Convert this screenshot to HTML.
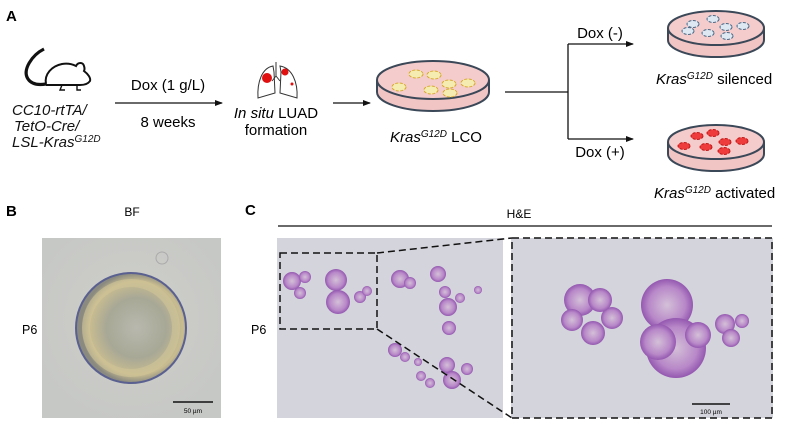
<!DOCTYPE html>
<html><head><meta charset="utf-8"><style>
html,body{margin:0;padding:0;background:#fff;}
svg{display:block;font-family:"Liberation Sans",Arial,sans-serif;}
</style></head><body>
<svg width="798" height="426" viewBox="0 0 798 426" xmlns="http://www.w3.org/2000/svg">
<defs>
<marker id="ar" markerWidth="8" markerHeight="8" refX="7" refY="4" orient="auto" markerUnits="userSpaceOnUse"><path d="M0,1 L8,4 L0,7 z" fill="#111"/></marker>
<radialGradient id="bf" cx="50%" cy="45%" r="60%"><stop offset="0" stop-color="#cfcfc8"/><stop offset="1" stop-color="#c6c8c6"/></radialGradient>
<radialGradient id="org" cx="55%" cy="50%" r="50%"><stop offset="0" stop-color="#b8b8ae"/><stop offset="0.55" stop-color="#a8a896"/><stop offset="0.85" stop-color="#c8bc90"/><stop offset="1" stop-color="#8a8a80"/></radialGradient>
<radialGradient id="he" cx="50%" cy="50%" r="50%"><stop offset="0" stop-color="#d4c0d8"/><stop offset="0.7" stop-color="#b888c8"/><stop offset="1" stop-color="#9458b0"/></radialGradient>
</defs>
<rect width="798" height="426" fill="#fff"/>
<text x="6" y="21" font-size="15" font-weight="bold">A</text>
<g fill="none" stroke="#111" stroke-width="2">
<path d="M44,49 C32,55 22,70 28,79 C32,85 40,85 46,84" stroke-width="3.2"/>
<path d="M46,84 C44,74 52,66 62,64 C68,63 72,64 76,66 C78,62 83,62 84,66 C85,69 84,71 84,71 C88,74 91,78 90,81 C88,84 84,85 80,85 L46,85"/>
<path d="M62,85 L60,90 L65,90 M77,85 L77,90 L81,90" stroke-width="1.4"/>
</g>
<text font-size="15" font-style="italic" fill="#111"><tspan x="12" y="115">CC10-rtTA/</tspan><tspan x="14" y="131">TetO-Cre/</tspan><tspan x="12" y="147">LSL-Kras<tspan font-size="10" dy="-5">G12D</tspan></tspan></text>
<line x1="115" y1="103" x2="222" y2="103" stroke="#111" stroke-width="1.3" marker-end="url(#ar)"/>
<text x="168" y="90" font-size="15" text-anchor="middle">Dox (1 g/L)</text>
<text x="168" y="127" font-size="15" text-anchor="middle">8 weeks</text>
<g fill="#fff" stroke="#333" stroke-width="1">
<path d="M273,66 C262,68 257,82 258,98 L275,93 L274,72 z"/>
<path d="M280,66 C292,68 298,82 297,98 L280,93 L281,72 z"/>
<path d="M276,62 L276,76 M276,76 L272,81 M276,76 L280,81"/>
</g>
<circle cx="267" cy="78" r="5" fill="#e01010"/><circle cx="285" cy="72" r="3.5" fill="#e01010"/><circle cx="292" cy="84" r="1.5" fill="#e01010"/>
<text x="276" y="118" font-size="15" text-anchor="middle"><tspan font-style="italic">In situ</tspan> LUAD</text>
<text x="276" y="135" font-size="15" text-anchor="middle">formation</text>
<line x1="333" y1="103" x2="370" y2="103" stroke="#111" stroke-width="1.3" marker-end="url(#ar)"/>
<path d="M377,80 L377,92 A56,19 0 0 0 489,92 L489,80" fill="#f2c5c5" stroke="#3b4858" stroke-width="2"/>
<ellipse cx="433" cy="80" rx="56" ry="19" fill="#f5cccc" stroke="#3b4858" stroke-width="2"/>
<g fill="#f4ecb0" stroke="#d8a830" stroke-width="1" stroke-dasharray="3,1.5">
<ellipse cx="416" cy="74" rx="7" ry="4"/><ellipse cx="434" cy="75" rx="7" ry="4"/><ellipse cx="449" cy="84" rx="7" ry="4"/><ellipse cx="468" cy="83" rx="7" ry="4"/><ellipse cx="399" cy="87" rx="7" ry="4"/><ellipse cx="431" cy="90" rx="7" ry="4"/><ellipse cx="450" cy="93" rx="7" ry="4"/>
</g>
<text x="390" y="142" font-size="15"><tspan font-style="italic">Kras<tspan font-size="10" dy="-5">G12D</tspan></tspan><tspan dy="5"> LCO</tspan></text>
<path d="M505,92 L568,92 M568,44 L568,139" stroke="#111" stroke-width="1.3" fill="none"/>
<line x1="568" y1="44" x2="633" y2="44" stroke="#111" stroke-width="1.3" marker-end="url(#ar)"/>
<line x1="568" y1="139" x2="633" y2="139" stroke="#111" stroke-width="1.3" marker-end="url(#ar)"/>
<text x="600" y="38" font-size="15" text-anchor="middle">Dox (-)</text>
<text x="600" y="157" font-size="15" text-anchor="middle">Dox (+)</text>
<path d="M668,28 L668,40 A48,17 0 0 0 764,40 L764,28" fill="#f2c5c5" stroke="#3b4858" stroke-width="2"/>
<ellipse cx="716" cy="28" rx="48" ry="17" fill="#f5cccc" stroke="#3b4858" stroke-width="2"/>
<g fill="#dde8f2" stroke="#4a6a88" stroke-width="1" stroke-dasharray="3,1.5">
<ellipse cx="693" cy="24" rx="6" ry="3.5"/><ellipse cx="713" cy="19" rx="6" ry="3.5"/><ellipse cx="726" cy="27" rx="6" ry="3.5"/><ellipse cx="743" cy="26" rx="6" ry="3.5"/><ellipse cx="688" cy="31" rx="6" ry="3.5"/><ellipse cx="708" cy="33" rx="6" ry="3.5"/><ellipse cx="727" cy="36" rx="6" ry="3.5"/>
</g>
<text x="656" y="84" font-size="15"><tspan font-style="italic">Kras<tspan font-size="10" dy="-5">G12D</tspan></tspan><tspan dy="5"> silenced</tspan></text>
<path d="M668,142 L668,154 A48,17 0 0 0 764,154 L764,142" fill="#f2c5c5" stroke="#3b4858" stroke-width="2"/>
<ellipse cx="716" cy="142" rx="48" ry="17" fill="#f5cccc" stroke="#3b4858" stroke-width="2"/>
<g fill="#ee3c3c" stroke="#c01818" stroke-width="1" stroke-dasharray="3,1.5">
<ellipse cx="697" cy="136" rx="6" ry="3.5"/><ellipse cx="713" cy="133" rx="6" ry="3.5"/><ellipse cx="725" cy="142" rx="6" ry="3.5"/><ellipse cx="742" cy="141" rx="6" ry="3.5"/><ellipse cx="684" cy="146" rx="6" ry="3.5"/><ellipse cx="706" cy="147" rx="6" ry="3.5"/><ellipse cx="724" cy="151" rx="6" ry="3.5"/>
</g>
<text x="654" y="198" font-size="15"><tspan font-style="italic">Kras<tspan font-size="10" dy="-5">G12D</tspan></tspan><tspan dy="5"> activated</tspan></text>
<text x="6" y="216" font-size="15" font-weight="bold">B</text>
<text x="132" y="216" font-size="12" text-anchor="middle">BF</text>
<text x="22" y="334" font-size="12.5">P6</text>
<rect x="42" y="238" width="179" height="180" fill="url(#bf)"/>
<circle cx="131" cy="328" r="55" fill="url(#org)" stroke="#5a6090" stroke-width="2"/>
<circle cx="131" cy="328" r="45" fill="none" stroke="#d0c498" stroke-width="8" opacity="0.6"/>
<circle cx="162" cy="258" r="6" fill="none" stroke="#aaa" stroke-width="1"/>
<line x1="173" y1="402" x2="213" y2="402" stroke="#111" stroke-width="1.5"/>
<text x="193" y="413" font-size="6.5" text-anchor="middle">50 µm</text>
<text x="245" y="215" font-size="15" font-weight="bold">C</text>
<text x="519" y="218" font-size="12" text-anchor="middle">H&amp;E</text>
<line x1="278" y1="226" x2="772" y2="226" stroke="#111" stroke-width="1.3"/>
<text x="251" y="334" font-size="12.5">P6</text>
<rect x="277" y="238" width="226" height="180" fill="#d4d4dc"/>
<rect x="511" y="238" width="262" height="180" fill="#d4d4dc"/>
<g fill="url(#he)">
<circle cx="292" cy="281" r="9"/><circle cx="305" cy="277" r="6"/><circle cx="300" cy="293" r="6"/><circle cx="336" cy="280" r="11"/><circle cx="338" cy="302" r="12"/><circle cx="360" cy="297" r="6"/><circle cx="367" cy="291" r="5"/>
<circle cx="400" cy="279" r="9"/><circle cx="410" cy="283" r="6"/><circle cx="438" cy="274" r="8"/><circle cx="445" cy="292" r="6"/><circle cx="448" cy="307" r="9"/><circle cx="460" cy="298" r="5"/><circle cx="449" cy="328" r="7"/><circle cx="478" cy="290" r="4"/><circle cx="395" cy="350" r="7"/><circle cx="405" cy="357" r="5"/><circle cx="418" cy="362" r="4"/><circle cx="421" cy="376" r="5"/><circle cx="447" cy="365" r="8"/><circle cx="452" cy="380" r="9"/><circle cx="467" cy="369" r="6"/><circle cx="430" cy="383" r="5"/>
<circle cx="580" cy="300" r="16"/><circle cx="572" cy="320" r="11"/><circle cx="593" cy="333" r="12"/><circle cx="612" cy="318" r="11"/><circle cx="600" cy="300" r="12"/>
<circle cx="667" cy="305" r="26"/><circle cx="676" cy="348" r="30"/><circle cx="658" cy="342" r="18"/><circle cx="698" cy="335" r="13"/>
<circle cx="725" cy="324" r="10"/><circle cx="731" cy="338" r="9"/><circle cx="742" cy="321" r="7"/>
</g>
<g fill="none" stroke="#111" stroke-width="1.5" stroke-dasharray="7,4">
<rect x="280" y="253" width="97" height="76"/>
<rect x="512" y="238" width="260" height="180"/>
<line x1="377" y1="253" x2="512" y2="238"/>
<line x1="377" y1="329" x2="512" y2="418"/>
</g>
<line x1="692" y1="404" x2="730" y2="404" stroke="#111" stroke-width="1.5"/>
<text x="711" y="414" font-size="6.5" text-anchor="middle">100 µm</text>
</svg>
</body></html>
